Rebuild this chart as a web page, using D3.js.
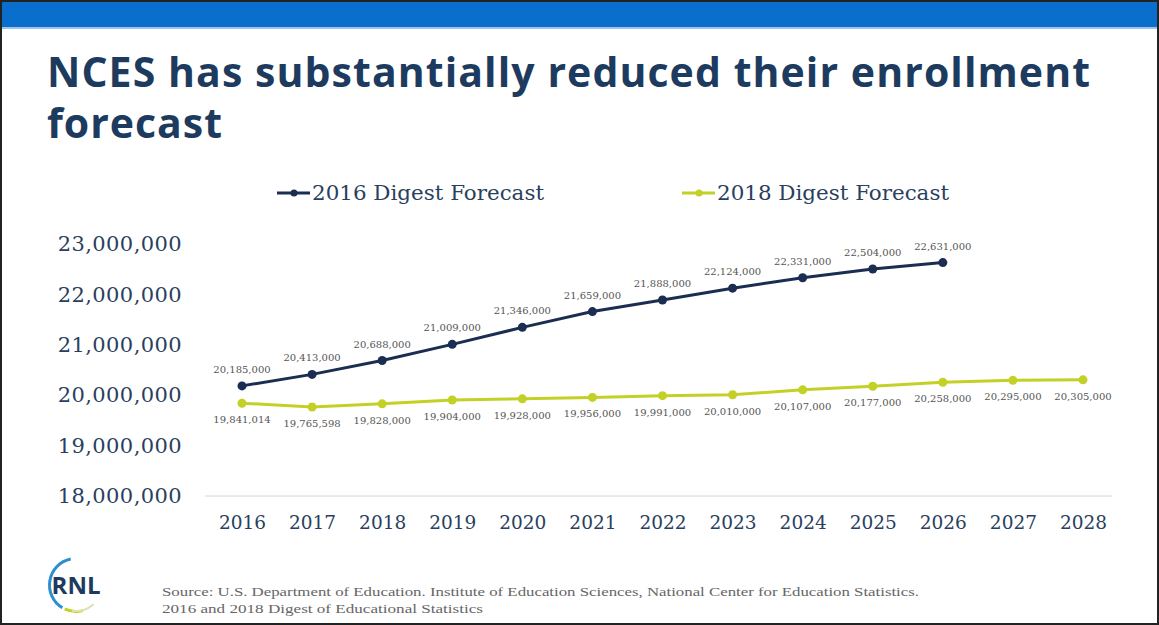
<!DOCTYPE html>
<html><head><meta charset="utf-8">
<script src="https://cdn.jsdelivr.net/npm/d3@7"></script>
<style>body{margin:0;background:#fff;}svg{display:block;}</style>
</head><body>
<svg id="c" width="1159" height="625"></svg>
<script>
const years = [2016,2017,2018,2019,2020,2021,2022,2023,2024,2025,2026,2027,2028];
const forecast2016 = [20185000,20413000,20688000,21009000,21346000,21659000,21888000,22124000,22331000,22504000,22631000];
const forecast2018 = [19841014,19765598,19828000,19904000,19928000,19956000,19991000,20010000,20107000,20177000,20258000,20295000,20305000];
const yTicks = [18000000,19000000,20000000,21000000,22000000,23000000];
const seriesNames = ["2016 Digest Forecast","2018 Digest Forecast"];

const svg = d3.select("#c");
const W=1159,H=625;
const navy="#1b2d50", lime="#c3d126", titleCol="#1d3b5e", tickCol="#2a3f5e";

// frame
svg.append("rect").attr("x",1).attr("y",1).attr("width",W-2).attr("height",H-2).attr("fill","#fff").attr("stroke","#222").attr("stroke-width",2);
svg.append("rect").attr("x",2).attr("y",2).attr("width",W-4).attr("height",25).attr("fill","#0a6fcc");
svg.append("line").attr("x1",2).attr("x2",W-2).attr("y1",28).attr("y2",28).attr("stroke","#9cc4ea").attr("stroke-width",2);

// title
const title = svg.append("text").attr("font-family","'Open Sans', 'DejaVu Sans', sans-serif").attr("font-weight",700).attr("font-size",41).attr("fill",titleCol);
title.append("tspan").attr("x",47).attr("y",87).attr("textLength",1043).attr("lengthAdjust","spacing").text("NCES has substantially reduced their enrollment");
title.append("tspan").attr("x",47).attr("y",138).attr("textLength",175).attr("lengthAdjust","spacing").text("forecast");

const x = d3.scalePoint().domain(years).range([242,1083]);
const y = d3.scaleLinear().domain([18000000,23000000]).range([496,244]);

// axis baseline
svg.append("line").attr("x1",205).attr("x2",1112).attr("y1",y(18000000)).attr("y2",y(18000000)).attr("stroke","#d6d6d6").attr("stroke-width",1);

const fmt = d3.format(",");
const yAxis = d3.axisLeft(y).tickValues(yTicks).tickFormat(fmt).tickSize(0).tickPadding(0);
const ga = svg.append("g").attr("transform","translate(182,0)").call(yAxis);
ga.select(".domain").remove();
ga.selectAll("text").attr("font-family","'DejaVu Serif', serif").attr("font-size",21).attr("letter-spacing",0.4).attr("fill",tickCol);

const xAxis = d3.axisBottom(x).tickFormat(d=>d).tickSize(0).tickPadding(0);
const gx = svg.append("g").attr("transform","translate(0,516)").call(xAxis);
gx.select(".domain").remove();
gx.selectAll("text").attr("font-family","'DejaVu Serif', serif").attr("font-size",18.5).attr("fill",tickCol);

const line = d3.line().x((d,i)=>x(years[i])).y(d=>y(d));
function drawSeries(data,color,above){
  svg.append("path").datum(data).attr("d",line).attr("fill","none").attr("stroke",color).attr("stroke-width",3);
  svg.selectAll(null).data(data).enter().append("circle").attr("cx",(d,i)=>x(years[i])).attr("cy",d=>y(d)).attr("r",4.5).attr("fill",color);
  svg.selectAll(null).data(data).enter().append("text").attr("x",(d,i)=>x(years[i])).attr("y",d=>y(d)+(above?-13:20))
    .attr("text-anchor","middle").attr("font-family","'DejaVu Serif', serif").attr("font-size",10).attr("fill","#555").text(d=>fmt(d));
}
drawSeries(forecast2016,navy,true);
drawSeries(forecast2018,lime,false);

// legend
const leg = [{name:seriesNames[0],color:navy,x:277},{name:seriesNames[1],color:lime,x:682}];
leg.forEach(l=>{
  svg.append("line").attr("x1",l.x).attr("x2",l.x+33).attr("y1",193).attr("y2",193).attr("stroke",l.color).attr("stroke-width",3);
  svg.append("circle").attr("cx",l.x+17).attr("cy",193).attr("r",3.5).attr("fill",l.color);
  svg.append("text").attr("x",l.x+35).attr("y",200).attr("font-family","'DejaVu Serif', serif").attr("font-size",20).attr("textLength",232).attr("lengthAdjust","spacingAndGlyphs").attr("fill",tickCol).text(l.name);
});

// logo
const lg = svg.append("g").attr("transform","translate(76,585)");
lg.append("path").attr("d",d3.arc()({innerRadius:25,outerRadius:28,startAngle:-2.6,endAngle:-0.2})).attr("fill","#2b8fd0");
lg.append("path").attr("d",d3.arc()({innerRadius:25,outerRadius:28,startAngle:-3.4,endAngle:-2.7})).attr("fill","#c3d126");
lg.append("path").attr("d",d3.arc()({innerRadius:25,outerRadius:27,startAngle:3.3,endAngle:2.4})).attr("fill","#e0e0b0");
lg.append("text").attr("x",0).attr("y",9).attr("text-anchor","middle").attr("font-family","'Open Sans', sans-serif").attr("font-weight",700).attr("font-size",24).attr("fill","#1d3b5e").text("RNL");

// source
const src = svg.append("text").attr("font-family","'Liberation Serif', serif").attr("font-size",13).attr("fill","#666");
src.append("tspan").attr("x",162).attr("y",596).attr("textLength",757).attr("lengthAdjust","spacingAndGlyphs").text("Source: U.S. Department of Education. Institute of Education Sciences, National Center for Education Statistics.");
src.append("tspan").attr("x",162).attr("y",613).attr("textLength",321).attr("lengthAdjust","spacingAndGlyphs").text("2016 and 2018 Digest of Educational Statistics");
</script>
</body></html>
